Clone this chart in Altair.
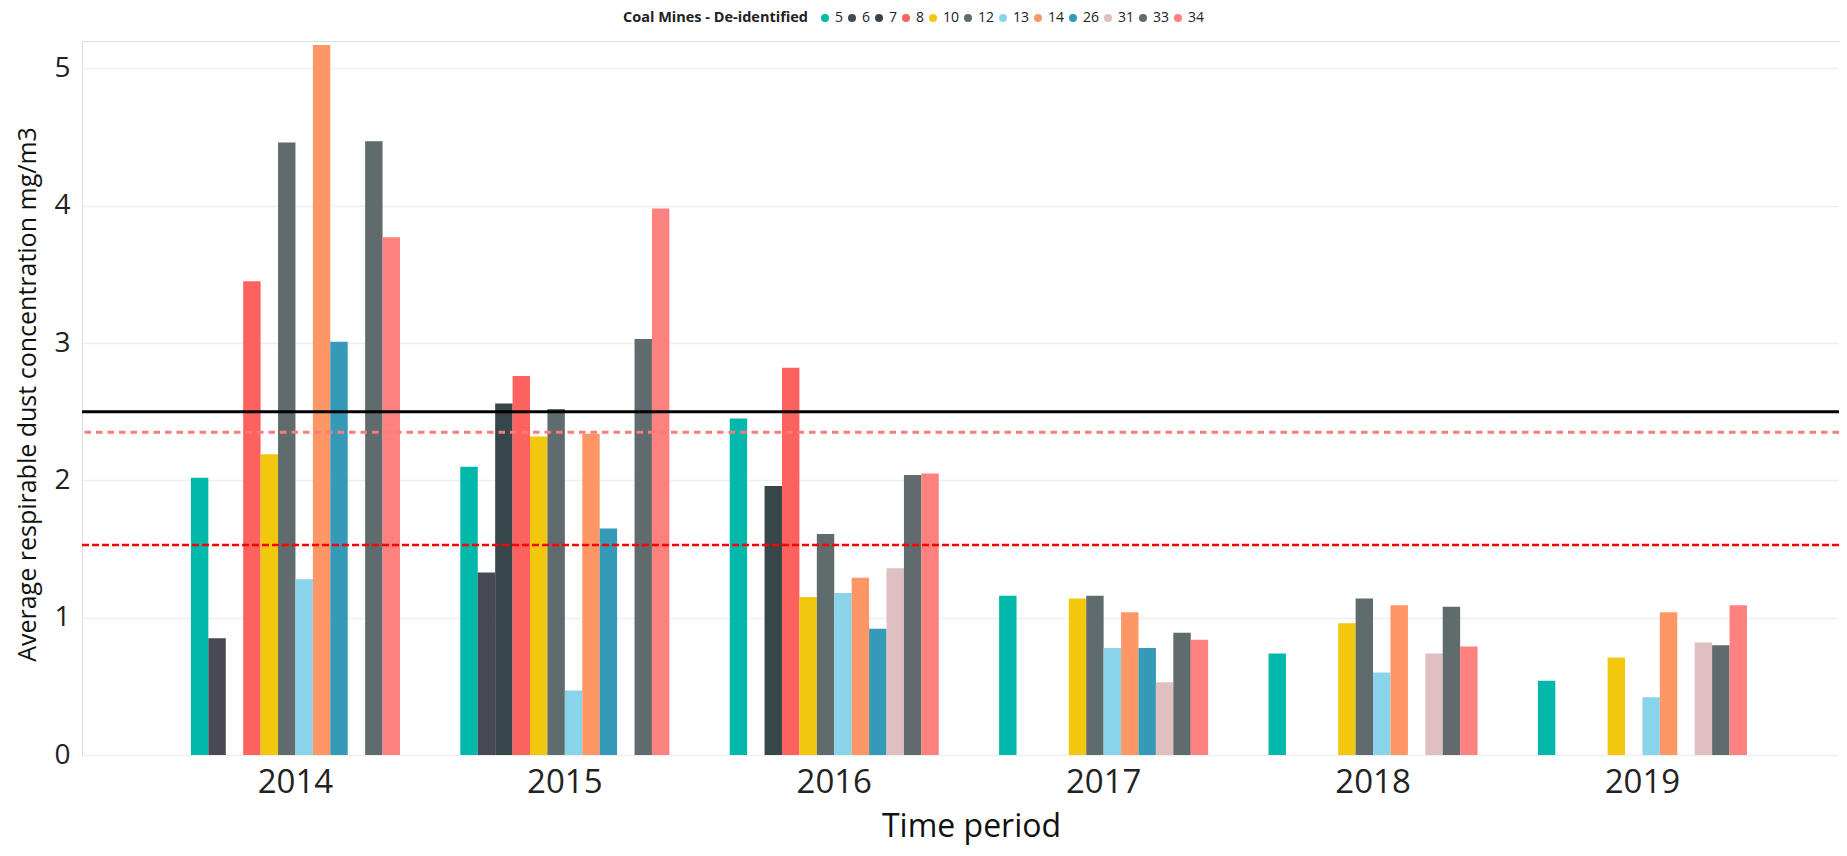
import altair as alt
import pandas as pd

years = ["2014", "2015", "2016", "2017", "2018", "2019"]
mines = ["5", "6", "7", "8", "10", "12", "13", "14", "26", "31", "33", "34"]
colors = ["#01B8AA", "#474A54", "#374649", "#FD625E", "#F2C80F", "#5F6B6D",
          "#8AD4EB", "#FE9666", "#3599B8", "#DFBFBF", "#5F6B6D", "#FD817E"]

# values per year, in mine order (None = no bar)
v2014 = [2.02, 0.85, None, 3.45, 2.19, 4.46, 1.28, 5.17, 3.01, None, 4.47, 3.77]
v2015 = [2.10, 1.33, 2.56, 2.76, 2.32, 2.52, 0.47, 2.34, 1.65, None, 3.03, 3.98]
v2016 = [2.45, None, 1.96, 2.82, 1.15, 1.61, 1.18, 1.29, 0.92, 1.36, 2.04, 2.05]
v2017 = [1.16, None, None, None, 1.14, 1.16, 0.78, 1.04, 0.78, 0.53, 0.89, 0.84]
v2018 = [0.74, None, None, None, 0.96, 1.14, 0.60, 1.09, None, 0.74, 1.08, 0.79]
v2019 = [0.54, None, None, None, 0.71, None, 0.42, 1.04, None, 0.82, 0.80, 1.09]

ref_black = 2.5
ref_pink = 2.35
ref_red = 1.53

rows = []
for yr, vals in zip(years, [v2014, v2015, v2016, v2017, v2018, v2019]):
    for m, v in zip(mines, vals):
        if v is not None:
            rows.append({"year": yr, "mine": m, "value": v})
df = pd.DataFrame(rows)

FONT = "Open Sans"
W, H = 1757, 714

bars = alt.Chart(df).mark_bar(opacity=1).encode(
    x=alt.X("year:N", sort=years,
            scale=alt.Scale(paddingInner=0.224, paddingOuter=0.373, align=0.542),
            axis=alt.Axis(title="Time period", labelAngle=0, labelFontSize=33,
                          labelFont=FONT, labelColor="#222222", ticks=False, domain=False,
                          labelPadding=27, labelBaseline="middle",
                          titleFont=FONT, titleFontSize=32, titleFontWeight="normal",
                          titleColor="#111111", titleX=889, titleY=81,
                          titleAnchor="start", titleAlign="center", titleBaseline="alphabetic")),
    xOffset=alt.XOffset("mine:N", sort=mines,
                        scale=alt.Scale(domain=mines, paddingInner=0, paddingOuter=0)),
    y=alt.Y("value:Q", scale=alt.Scale(domain=[0, 5.2], nice=False),
            axis=alt.Axis(title="Average respirable dust concentration mg/m3",
                          values=[0, 1, 2, 3, 4, 5], format="d", labelFontSize=28, labelFont=FONT,
                          labelColor="#222222", labelPadding=12, ticks=False, domain=False,
                          gridColor="#EEEEEE", gridWidth=1.5,
                          titleFont=FONT, titleFontSize=25, titleFontWeight="normal",
                          titleColor="#111111", titleX=-55, titleY=353,
                          titleAngle=-90, titleAlign="center", titleBaseline="middle")),
    color=alt.Color("mine:N", sort=mines,
                    scale=alt.Scale(domain=mines, range=colors),
                    legend=alt.Legend(title="Coal Mines - De-identified", orient="none",
                                      direction="horizontal", legendX=541, legendY=-30,
                                      titleOrient="left", titleFont=FONT, titleFontSize=14.5,
                                      titleFontWeight="bold", titleColor="#222222",
                                      titlePadding=10, titleLimit=400,
                                      labelFont=FONT, labelFontSize=14, labelColor="#222222",
                                      labelOffset=3, symbolType="circle", symbolSize=64,
                                      symbolStrokeWidth=0, columnPadding=1,
                                      symbolOpacity=1)),
)

black = alt.Chart(pd.DataFrame({"v": [ref_black]})).mark_rule(color="#000000", strokeWidth=3).encode(y="v:Q")
pink = alt.Chart(pd.DataFrame({"v": [ref_pink]})).mark_rule(
    color="#FF7B7B", strokeWidth=3, strokeDash=[6.5, 5]).encode(y="v:Q")
red = alt.Chart(pd.DataFrame({"v": [ref_red]})).mark_rule(
    color="#FF0000", strokeWidth=2.5, strokeDash=[7, 3]).encode(y="v:Q")

chart = alt.layer(bars, black, pink, red).properties(
    width=W, height=H,
    autosize=alt.AutoSizeParams(type="none"),
    padding={"left": 74, "top": 33, "right": 0, "bottom": 93},
).configure_view(stroke=None).configure(font=FONT)

chart.save("out.html", embed_options={"renderer": "svg", "actions": False})
